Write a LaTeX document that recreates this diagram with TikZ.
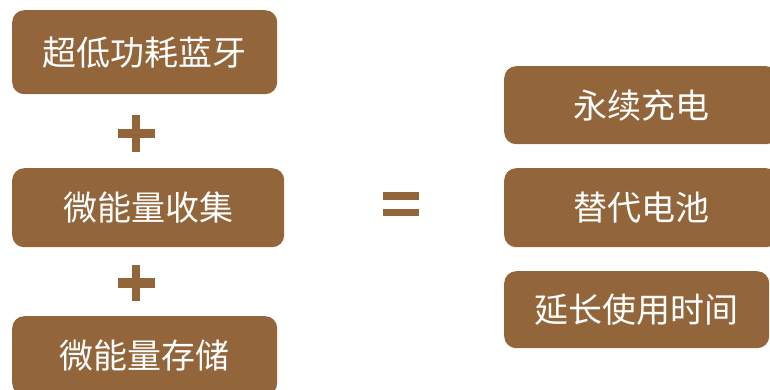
\documentclass[tikz,border=0pt]{standalone}
\usepackage{fontspec}
\newfontfamily\cjk{Noto Sans CJK SC}
\definecolor{boxbrown}{RGB}{147,101,59}
\begin{document}
\begin{tikzpicture}[x=1pt,y=-1pt,
  box/.style={fill=boxbrown, rounded corners=12pt, inner sep=0pt, text=white,
    font=\cjk\fontsize{34}{40}\selectfont, anchor=north west},
  sym/.style={fill=boxbrown, draw=none}]
\useasboundingbox (0,0) rectangle (770,390);
% left column
\node[box, minimum width=265pt, minimum height=84pt] (b1) at (12,10) {超低功耗蓝牙};
\node[box, minimum width=272pt, minimum height=79pt] (b2) at (12,168) {微能量收集};
\node[box, minimum width=265pt, minimum height=79pt] (b3) at (12,316) {微能量存储};
% right column
\node[box, minimum width=274pt, minimum height=78pt] (r1) at (504,66) {永续充电};
\node[box, minimum width=274pt, minimum height=79pt] (r2) at (504,168) {替代电池};
\node[box, minimum width=265pt, minimum height=77pt] (r3) at (504,271) {延长使用时间};
% plus signs
\fill[sym] (118,129) rectangle (155,138);
\fill[sym] (132,115) rectangle (140,152);
\fill[sym] (118,278) rectangle (155,288);
\fill[sym] (132,265) rectangle (140,301);
% equals sign
\fill[sym] (383,192) rectangle (419,199.5);
\fill[sym] (383,208.5) rectangle (419,216);
\end{tikzpicture}
\end{document}
